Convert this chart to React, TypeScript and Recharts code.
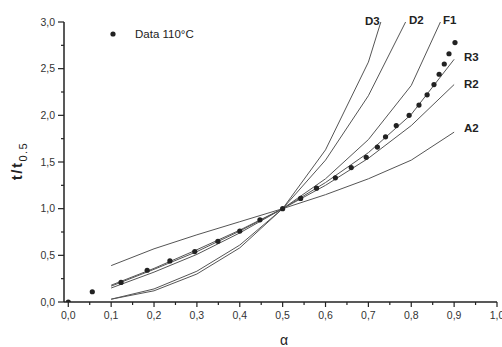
import { ComposedChart, Line, Scatter, XAxis, YAxis } from 'recharts'

// model curves, sampled at alpha = 0.1 ... 0.9
const alphaGrid = [0.1, 0.2, 0.3, 0.4, 0.5, 0.6, 0.7, 0.8, 0.9]
const d3Values = [0.03, 0.12, 0.3, 0.58, 1.0, 1.63, 2.57, 4.05, 6.75]
const d2Values = [0.03, 0.14, 0.33, 0.61, 1.0, 1.52, 2.21, 3.12, 4.37]
const f1Values = [0.15, 0.32, 0.51, 0.74, 1.0, 1.32, 1.74, 2.32, 3.32]
const r3Values = [0.17, 0.35, 0.54, 0.76, 1.0, 1.28, 1.6, 2.01, 2.6]
const r2Values = [0.18, 0.36, 0.56, 0.77, 1.0, 1.25, 1.54, 1.89, 2.33]
const a2Values = [0.39, 0.57, 0.72, 0.86, 1.0, 1.15, 1.32, 1.52, 1.82]

// measured points, 110°C
const dataAlpha = [
  0.0, 0.056, 0.123, 0.184, 0.237, 0.295, 0.349, 0.4, 0.447, 0.5, 0.542, 0.579, 0.623,
  0.66, 0.695, 0.721, 0.74, 0.765, 0.795, 0.818, 0.837, 0.853, 0.865, 0.877, 0.888, 0.902,
]
const dataRatio = [
  0.0, 0.11, 0.21, 0.34, 0.44, 0.54, 0.65, 0.76, 0.88, 1.0, 1.11, 1.22, 1.33,
  1.44, 1.55, 1.66, 1.77, 1.89, 2.0, 2.11, 2.22, 2.33, 2.44, 2.55, 2.66, 2.78,
]

const xTicks = [0, 0.05, 0.1, 0.15, 0.2, 0.25, 0.3, 0.35, 0.4, 0.45, 0.5, 0.55, 0.6, 0.65, 0.7, 0.75, 0.8, 0.85, 0.9, 0.95, 1.0]
const yTicks = [0, 0.25, 0.5, 0.75, 1.0, 1.25, 1.5, 1.75, 2.0, 2.25, 2.5, 2.75, 3.0]

const toSeries = (vals: number[]) => alphaGrid.map((a, i) => ({ x: a, y: vals[i] }))
const pointData = dataAlpha.map((a, i) => ({ x: a, y: dataRatio[i] }))

const FONT = 'Arial, "Liberation Sans", sans-serif'
const fmt = (v: number) => v.toFixed(1).replace('.', ',')

const XTick = (props: any) => {
  const { x, y, payload } = props
  const v = payload.value
  const major = Math.abs(v * 10 - Math.round(v * 10)) < 1e-6
  return (
    <g>
      <line x1={x} x2={x} y1={y} y2={y + (major ? 5 : 3)} stroke="#222" strokeWidth={1.2} />
      {major && (
        <text x={x} y={y + 17} textAnchor="middle" fontSize={10.5} fill="#333" fontFamily={FONT}>
          {fmt(v)}
        </text>
      )}
    </g>
  )
}

const YTick = (props: any) => {
  const { x, y, payload } = props
  const v = payload.value
  const major = Math.abs(v * 2 - Math.round(v * 2)) < 1e-6
  return (
    <g>
      <line x1={x - (major ? 6 : 3)} x2={x} y1={y} y2={y} stroke="#222" strokeWidth={1.2} />
      {major && (
        <text x={x - 9} y={y} dy="0.35em" textAnchor="end" fontSize={10.5} fill="#333" fontFamily={FONT}>
          {fmt(v)}
        </text>
      )}
    </g>
  )
}

const Dot = (props: any) => <circle cx={props.cx} cy={props.cy} r={2.6} fill="#222" />

const curves = [
  { name: 'D3', values: d3Values },
  { name: 'D2', values: d2Values },
  { name: 'F1', values: f1Values },
  { name: 'R3', values: r3Values },
  { name: 'R2', values: r2Values },
  { name: 'A2', values: a2Values },
]

const labels = [
  { text: 'D3', x: 365, y: 25 },
  { text: 'D2', x: 409, y: 24 },
  { text: 'F1', x: 443, y: 24 },
  { text: 'R3', x: 464, y: 61 },
  { text: 'R2', x: 464, y: 88 },
  { text: 'A2', x: 464, y: 132 },
]

export default function App() {
  return (
    <div style={{ position: 'absolute', left: 0, top: 0, width: 502, height: 347, background: '#fff' }}>
      <ComposedChart width={502} height={347} margin={{ top: 22, right: 5, left: 0, bottom: 0 }}>
        <XAxis
          type="number"
          dataKey="x"
          domain={[-0.01, 1]}
          allowDataOverflow
          ticks={xTicks}
          interval={0}
          height={45}
          tickSize={0}
          tickMargin={0}
          tickLine={false}
          tick={<XTick />}
          axisLine={{ stroke: '#222', strokeWidth: 1.5 }}
        />
        <YAxis
          type="number"
          dataKey="y"
          domain={[0, 3]}
          allowDataOverflow
          ticks={yTicks}
          interval={0}
          width={64}
          tickSize={0}
          tickMargin={0}
          tickLine={false}
          tick={<YTick />}
          axisLine={{ stroke: '#222', strokeWidth: 1.5 }}
        />
        {curves.map((c) => (
          <Line
            key={c.name}
            data={toSeries(c.values)}
            dataKey="y"
            name={c.name}
            type="linear"
            stroke="#555"
            strokeWidth={1}
            dot={false}
            activeDot={false}
            isAnimationActive={false}
          />
        ))}
        <Scatter data={pointData} dataKey="y" name="Data 110°C" shape={<Dot />} isAnimationActive={false} />
      </ComposedChart>
      <svg
        width={502}
        height={347}
        style={{ position: 'absolute', left: 0, top: 0, pointerEvents: 'none' }}
        fontFamily={FONT}
      >
        <circle cx={113} cy={34} r={2.6} fill="#222" />
        <text x={135} y={38} fontSize={11.5} fill="#222">
          Data 110°C
        </text>
        {labels.map((l) => (
          <text key={l.text} x={l.x} y={l.y} fontSize={11.5} fontWeight="bold" fill="#222">
            {l.text}
          </text>
        ))}
        <text transform="translate(22,161) rotate(-90)" textAnchor="middle" fontSize={15} fontWeight="bold" fill="#222" letterSpacing={1.5}>
          t/t
          <tspan fontSize={11} fontWeight="normal" dy={5}>
            0.5
          </tspan>
        </text>
        <text x={284} y={345} textAnchor="middle" fontSize={14} fill="#222">
          α
        </text>
      </svg>
    </div>
  )
}
